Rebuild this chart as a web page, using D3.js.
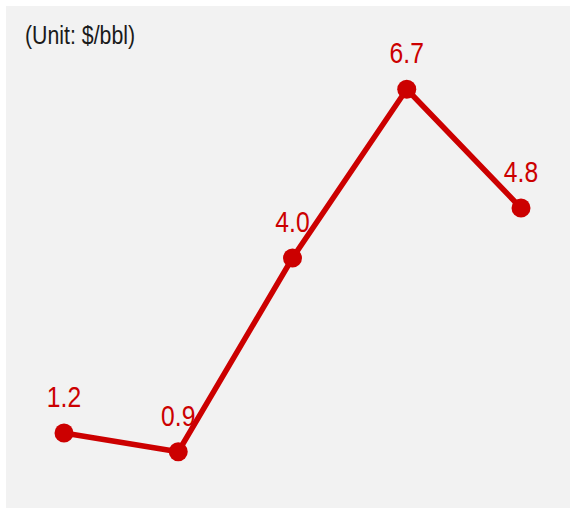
<!DOCTYPE html>
<html>
<head>
<meta charset="utf-8">
<script src="https://cdn.jsdelivr.net/npm/d3@7"></script>
<style>
  html, body { margin: 0; padding: 0; background: #ffffff; }
  svg { display: block; }
  text { font-family: "Liberation Sans", Arial, sans-serif; }
</style>
</head>
<body>
<svg id="chart" width="572" height="509"></svg>
<script>
// Data
const categories = ["P1", "P2", "P3", "P4", "P5"];
const values = [1.2, 0.9, 4.0, 6.7, 4.8];
const valueLabels = ["1.2", "0.9", "4.0", "6.7", "4.8"];
const unitLabel = "(Unit: $/bbl)";

const svg = d3.select("#chart");
const red = "#cc0000";

svg.append("rect")
  .attr("x", 6).attr("y", 6)
  .attr("width", 564).attr("height", 502)
  .attr("fill", "#f2f2f2");

const x = d3.scalePoint().domain(categories).range([64, 521]);
const y = d3.scaleLinear().domain([0, 8]).range([508, 8]);

svg.append("text")
  .attr("transform", "translate(25,44) scale(0.82,1)")
  .attr("font-size", 26)
  .attr("fill", "#1a1a1a")
  .text(unitLabel);

const pts = categories.map((c, i) => ({c, v: values[i], label: valueLabels[i]}));

const line = d3.line().x(d => x(d.c)).y(d => y(d.v));

svg.append("path")
  .datum(pts)
  .attr("d", line)
  .attr("fill", "none")
  .attr("stroke", red)
  .attr("stroke-width", 5.5)
  .attr("stroke-linejoin", "round");

svg.selectAll("circle.pt")
  .data(pts)
  .join("circle")
  .attr("class", "pt")
  .attr("cx", d => x(d.c))
  .attr("cy", d => y(d.v))
  .attr("r", 9.5)
  .attr("fill", red);

svg.selectAll("text.lbl")
  .data(pts)
  .join("text")
  .attr("class", "lbl")
  .attr("transform", d => `translate(${x(d.c)},${y(d.v) - 26}) scale(0.85,1)`)
  .attr("text-anchor", "middle")
  .attr("font-size", 29)
  .attr("fill", red)
  .text(d => d.label);
</script>
</body>
</html>
